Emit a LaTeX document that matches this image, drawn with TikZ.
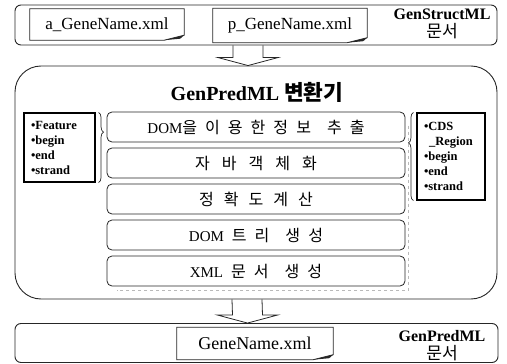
\documentclass[tikz,border=0pt]{standalone}
\usepackage{fontspec}
\setmainfont{Liberation Serif}
\newfontfamily\kr[Scale=1.07]{Noto Sans CJK KR}
\usetikzlibrary{calc,decorations.pathreplacing}

\tikzset{
  frame/.style={draw=black!85, line width=0.9pt, rounded corners=6pt,
    minimum width=482pt, minimum height=40pt, inner sep=0pt},
  bigframe/.style={frame, rounded corners=26pt, minimum height=233pt},
  docfile/.style={inner sep=0pt, font=\fontsize{17}{20}\selectfont},
  stepbox/.style={draw=black!85, line width=0.8pt, rounded corners=5pt,
    minimum width=298pt, minimum height=30pt, inner sep=0pt,
    font=\fontsize{15}{18}\selectfont},
  listbox/.style={draw=black, line width=1.1pt, inner xsep=7pt, inner ysep=0pt,
    align=left, font=\bfseries\fontsize{12.5}{15}\selectfont},
  tag/.style={align=center, font=\fontsize{16}{18}\selectfont},
  blockarrow/.style={draw=black!85, line width=0.8pt},
  curlybrace/.style={draw=black!85, line width=0.7pt, decorate},
  shadowline/.style={draw=gray!55, dashed, line width=0.6pt},
}

% file sheet with a curled lower right corner
\newcommand\filesheet[1]{%
  \draw[line width=0.8pt, black!85] (#1.north west) -- (#1.north east)
    -- ([yshift=5pt]#1.south east) -- ([xshift=-20pt]#1.south east)
    -- (#1.south west) -- cycle;
  \fill[black!85] ([yshift=5pt]#1.south east) -- ([xshift=-20pt]#1.south east)
    -- ([xshift=-4pt,yshift=1.5pt]#1.south east) -- cycle;}

% hollow downward block arrow from #1 (shaft top) to #2 (tip)
\newcommand\hollowdown[2]{%
  \draw[blockarrow] ($(#1)+(-15,0)$) -- ($(#2)+(-15,-8)$) -- ($(#2)+(-30,-8)$)
    -- (#2) -- ($(#2)+(30,-8)$) -- ($(#2)+(15,-8)$) -- ($(#1)+(15,0)$);}

\begin{document}
\begin{tikzpicture}[x=1pt, y=-1pt]
\useasboundingbox (0,0) rectangle (507,364);

% input documents
\node[frame] (src) at (256,25) {};
\node[docfile, minimum width=154pt, minimum height=31pt] (afile) at (107,24.5) {a\_GeneName.xml};
\node[docfile, minimum width=154pt, minimum height=34pt] (pfile) at (290,25.5) {p\_GeneName.xml};
\filesheet{afile}
\filesheet{pfile}
\node[tag] (srctag) at (442,24) {\textbf{GenStructML}\\{\kr 문서}};

% converter
\node[bigframe] (conv) at (256,182.5) {};
\node[font=\bfseries\fontsize{20}{24}\selectfont] (title) at (257,92) {GenPredML {\kr 변환기}};

\node[stepbox] (s1) at (256,127) {\spaceskip=8pt DOM{\kr 을 이 용 한 정 보\ \ 추 출}};
\node[stepbox] (s2) at (256,163) {\spaceskip=12pt{\kr 자 바 객 체 화}};
\node[stepbox] (s3) at (256,199) {\spaceskip=10pt{\kr 정 확 도 계 산}};
\node[stepbox] (s4) at (256,235) {\spaceskip=8pt DOM {\kr 트 리\ \ 생 성}};
\node[stepbox] (s5) at (256,271) {\spaceskip=8pt XML {\kr 문 서\ \ 생 성}};
\draw[shadowline] ($(s1.north east)+(3,14)$) -- ($(s5.south east)+(3,4)$)
  -- ($(s5.south west)+(10,4)$);

\node[listbox, text width=57pt, minimum height=69pt] (feat) at (59.5,147.5)
  {•Feature\\•begin\\•end\\•strand};
\node[listbox, text width=54pt, minimum height=87pt] (cds) at (451,156.5)
  {•CDS\\\hspace*{5pt}\_Region\\•begin\\•end\\•strand};
\draw[curlybrace, decoration={brace, amplitude=5pt, aspect=0.28}]
  ([xshift=3pt]feat.north east) -- ([xshift=3pt]feat.south east);
\draw[curlybrace, decoration={brace, amplitude=5pt, aspect=0.655}]
  ([xshift=-3pt]cds.south west) -- ([xshift=-3pt]cds.north west);

% output document
\node[frame, minimum width=483pt, minimum height=39pt] (dst) at (256.5,343) {};
\node[docfile, minimum width=156pt, minimum height=32pt,
  font=\fontsize{18}{20}\selectfont] (gfile) at (255,343.5) {GeneName.xml};
\filesheet{gfile}
\node[tag] (dsttag) at (442,346) {\textbf{GenPredML}\\{\kr 문서}};

% flow arrows
\coordinate (in1) at ($(src.south)+(-8,0)$);
\coordinate (in2) at ($(conv.north)+(-8,0)$);
\hollowdown{in1}{in2}
\coordinate (out1) at ($(conv.south)+(-9,0)$);
\coordinate (out2) at ($(dst.north)+(-9,0)$);
\hollowdown{out1}{out2}
\end{tikzpicture}
\end{document}
